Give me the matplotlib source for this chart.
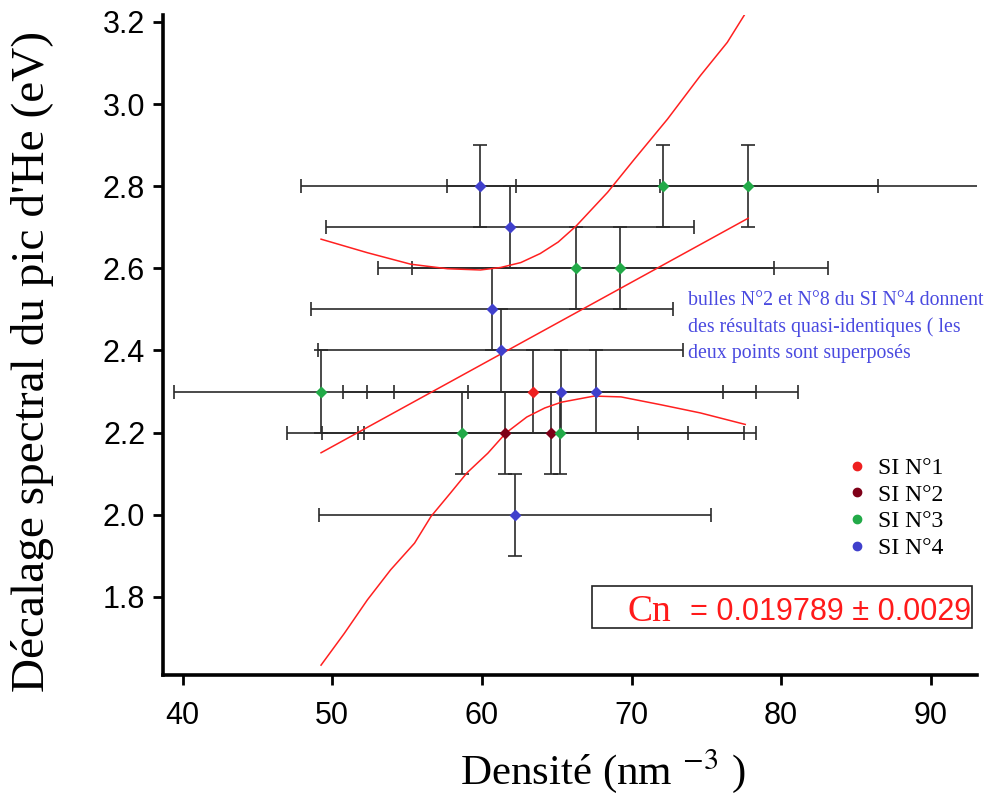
import matplotlib
matplotlib.use("Agg")
import matplotlib.pyplot as plt
from matplotlib.lines import Line2D
from matplotlib.patches import Rectangle

plt.rcParams['mathtext.fontset'] = 'stix'

# data
series = ['SI N°1', 'SI N°2', 'SI N°3', 'SI N°4']
colors = ['#ee2020', '#7f0018', '#22aa48', '#4040cc']

x_si1 = [63.4]
y_si1 = [2.3]
xe_si1 = [12.7]

x_si2 = [61.55, 64.6]
y_si2 = [2.2, 2.2]
xe_si2 = [12.25, 12.9]

x_si3 = [72.1, 77.8, 66.3, 69.2, 49.25, 58.7, 65.2]
y_si3 = [2.8, 2.8, 2.6, 2.6, 2.3, 2.2, 2.2]
xe_si3 = [14.4, 15.5, 13.25, 13.9, 9.85, 11.75, 13.1]

x_si4 = [59.9, 61.9, 60.7, 61.25, 65.3, 67.6, 62.2]
y_si4 = [2.8, 2.7, 2.5, 2.4, 2.3, 2.3, 2.0]
xe_si4 = [12.0, 12.3, 12.1, 12.2, 13.0, 13.5, 13.1]

y_err = 0.1

# fit line and confidence band
fit_x = [49.25, 77.8]
fit_y = [2.151, 2.722]
up_x = [49.25, 52.35, 55.25, 57.7, 59.9, 61.25, 62.6, 63.9, 65.1, 66.3, 68.4, 70.2, 72.4, 74.6, 76.4, 77.6]
up_y = [2.671, 2.638, 2.610, 2.599, 2.596, 2.602, 2.614, 2.636, 2.664, 2.703, 2.785, 2.866, 2.963, 3.069, 3.150, 3.220]
lo_x = [49.25, 50.8, 52.35, 53.9, 55.5, 56.6, 57.9, 59.0, 60.4, 61.6, 63.0, 64.2, 65.3, 67.5, 69.3, 71.95, 74.6, 77.6]
lo_y = [1.634, 1.711, 1.793, 1.866, 1.931, 1.996, 2.053, 2.102, 2.150, 2.199, 2.238, 2.260, 2.274, 2.289, 2.287, 2.268, 2.248, 2.220]

xticks = [40, 50, 60, 70, 80, 90]
yticks = [1.8, 2.0, 2.2, 2.4, 2.6, 2.8, 3.0, 3.2]

fig = plt.figure(figsize=(9.89, 8.05), dpi=100)
ax = fig.add_axes([0.165, 0.1615, 0.823, 0.8195])

all_x = [x_si1, x_si2, x_si3, x_si4]
all_y = [y_si1, y_si2, y_si3, y_si4]
all_xe = [xe_si1, xe_si2, xe_si3, xe_si4]

for xs, ys, xe in zip(all_x, all_y, all_xe):
    ax.errorbar(xs, ys, xerr=xe, yerr=y_err, fmt='none', ecolor='#2a2a2a',
                elinewidth=1.2, capsize=5, capthick=1.2, zorder=2)

ax.plot(fit_x, fit_y, color='#ff2020', lw=1.1, zorder=3)
ax.plot(up_x, up_y, color='#ff2020', lw=1.1, zorder=3)
ax.plot(lo_x, lo_y, color='#ff2020', lw=1.1, zorder=3)

for xs, ys, c in zip(all_x, all_y, colors):
    ax.plot(xs, ys, 'D', color=c, ms=6, mec='none', ls='none', zorder=4)

ax.set_xlim(38.7, 93.1)
ax.set_ylim(1.61, 3.216)
ax.set_xticks(xticks)
ax.set_yticks(yticks)
ax.set_yticklabels(['%.1f' % v for v in yticks],
                   family=['Liberation Sans', 'DejaVu Sans'], fontsize=22)
ax.set_xticklabels([str(v) for v in xticks],
                   family=['Liberation Sans Narrow', 'Liberation Sans'], fontsize=22)

for s in ['top', 'right']:
    ax.spines[s].set_visible(False)
for s in ['left', 'bottom']:
    ax.spines[s].set_linewidth(2.6)
ax.tick_params(direction='out', length=7, width=2, pad=6)
ax.tick_params(axis='x', pad=12)

ax.set_xlabel('Densité (nm $^{-3}$ )', family='Liberation Serif', fontsize=31)
ax.xaxis.set_label_coords(0.54, -0.108)
ax.set_ylabel("Décalage spectral du pic d'He (eV)", family='Liberation Serif', fontsize=34)
ax.yaxis.set_label_coords(-0.134, 0.476)

handles = [Line2D([], [], marker='o', color=c, ls='none', ms=6) for c in colors]
ax.legend(handles, series, loc='upper left', bbox_to_anchor=(0.809, 0.362),
          frameon=False, prop={'family': 'Liberation Serif', 'size': 17},
          handletextpad=0.3, labelspacing=0.22, handlelength=1.2)

ax.text(0.645, 0.582,
        'bulles N°2 et N°8 du SI N°4 donnent\ndes résultats quasi-identiques ( les\ndeux points sont superposés',
        transform=ax.transAxes, ha='left', va='top', color='#4a4ae0',
        family='Liberation Serif', fontsize=14.3, linespacing=1.5)

ax.add_patch(Rectangle((0.527, 0.0712), 0.467, 0.0636, transform=ax.transAxes,
                       fill=False, edgecolor='#222222', lw=1.2, clip_on=False, zorder=5))
ax.text(0.571, 0.082, 'Cn', transform=ax.transAxes, ha='left', va='baseline',
        color='#ff1a1a', family='Liberation Serif', fontsize=27)
ax.text(0.647, 0.084, '= 0.019789 ± 0.0029', transform=ax.transAxes, ha='left',
        va='baseline', color='#ff1a1a', family='Liberation Sans', fontsize=22)

fig.savefig('out.png', dpi=100)
